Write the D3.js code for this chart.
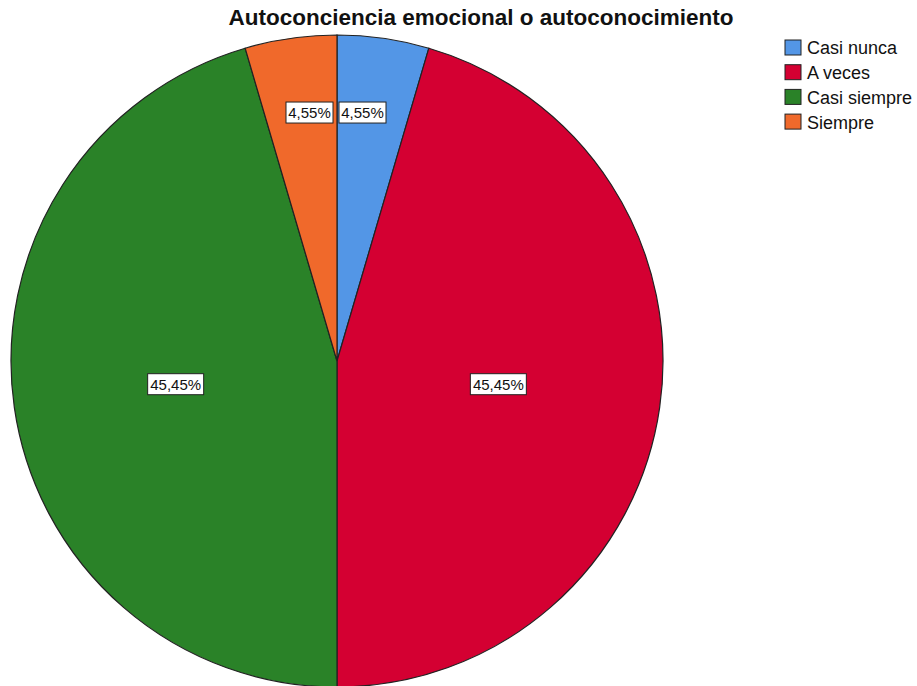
<!DOCTYPE html>
<html>
<head>
<meta charset="utf-8">
<script src="https://cdn.jsdelivr.net/npm/d3@7"></script>
<style>
  body { margin: 0; background: #fff; }
  svg { display: block; font-family: "Liberation Sans", Arial, sans-serif; }
</style>
</head>
<body>
<div id="chart"></div>
<script>
// chart data
var categories = ["Casi nunca", "A veces", "Casi siempre", "Siempre"];
var counts = [1, 10, 10, 1];
var labels = ["4,55%", "45,45%", "45,45%", "4,55%"];
var colors = ["#5396e6", "#d40032", "#2a8228", "#f0692b"];

var width = 917, height = 686;
var cx = 337, cy = 361, radius = 326;

var svg = d3.select("#chart").append("svg")
    .attr("width", width)
    .attr("height", height);

svg.append("text")
    .attr("x", 481)
    .attr("y", 25)
    .attr("text-anchor", "middle")
    .attr("font-size", "22.5px")
    .attr("font-weight", "bold")
    .attr("fill", "#111")
    .text("Autoconciencia emocional o autoconocimiento");

var pie = d3.pie().sort(null).value(function (d) { return d; });
var arc = d3.arc().innerRadius(0).outerRadius(radius);
var arcs = pie(counts);

var g = svg.append("g").attr("transform", "translate(" + cx + "," + cy + ")");

g.selectAll("path.slice")
    .data(arcs)
    .enter().append("path")
    .attr("class", "slice")
    .attr("d", arc)
    .attr("fill", function (d, i) { return colors[i]; })
    .attr("stroke", "#222")
    .attr("stroke-width", 1.2);

// label positions: big slices at half radius, small ones pushed out and kept apart
var bigArc = d3.arc().innerRadius(0).outerRadius(radius);
var smallArc = d3.arc().innerRadius(0).outerRadius(radius * 1.54);

var lab = g.selectAll("g.lab")
    .data(arcs)
    .enter().append("g")
    .attr("class", "lab")
    .attr("transform", function (d) {
        var small = (d.endAngle - d.startAngle) < 0.5;
        var c = small ? smallArc.centroid(d) : bigArc.centroid(d);
        var bw = 47;
        if (small) {
            var side = Math.sin((d.startAngle + d.endAngle) / 2) > 0 ? 1 : -1;
            c[0] = side > 0 ? 2 + bw / 2 : -4 - bw / 2;
        }
        return "translate(" + c[0] + "," + c[1] + ")";
    });

lab.append("rect")
    .attr("x", function (d, i) { return i === 1 || i === 2 ? -28 : -23.5; })
    .attr("y", -10.5)
    .attr("width", function (d, i) { return i === 1 || i === 2 ? 56 : 47; })
    .attr("height", 21)
    .attr("fill", "#fff")
    .attr("stroke", "#222")
    .attr("stroke-width", 1);

lab.append("text")
    .attr("text-anchor", "middle")
    .attr("dy", "0.36em")
    .attr("font-size", "15px")
    .attr("fill", "#111")
    .text(function (d, i) { return labels[i]; });

// legend
var legend = svg.append("g").attr("transform", "translate(785,40)");
var rows = legend.selectAll("g.row")
    .data(categories)
    .enter().append("g")
    .attr("class", "row")
    .attr("transform", function (d, i) { return "translate(0," + (i * 24.7) + ")"; });

rows.append("rect")
    .attr("width", 16)
    .attr("height", 15)
    .attr("fill", function (d, i) { return colors[i]; })
    .attr("stroke", "#222")
    .attr("stroke-width", 1);

rows.append("text")
    .attr("x", 22)
    .attr("y", 8)
    .attr("dy", "0.36em")
    .attr("font-size", "18px")
    .attr("fill", "#111")
    .text(function (d) { return d; });
</script>
</body>
</html>
